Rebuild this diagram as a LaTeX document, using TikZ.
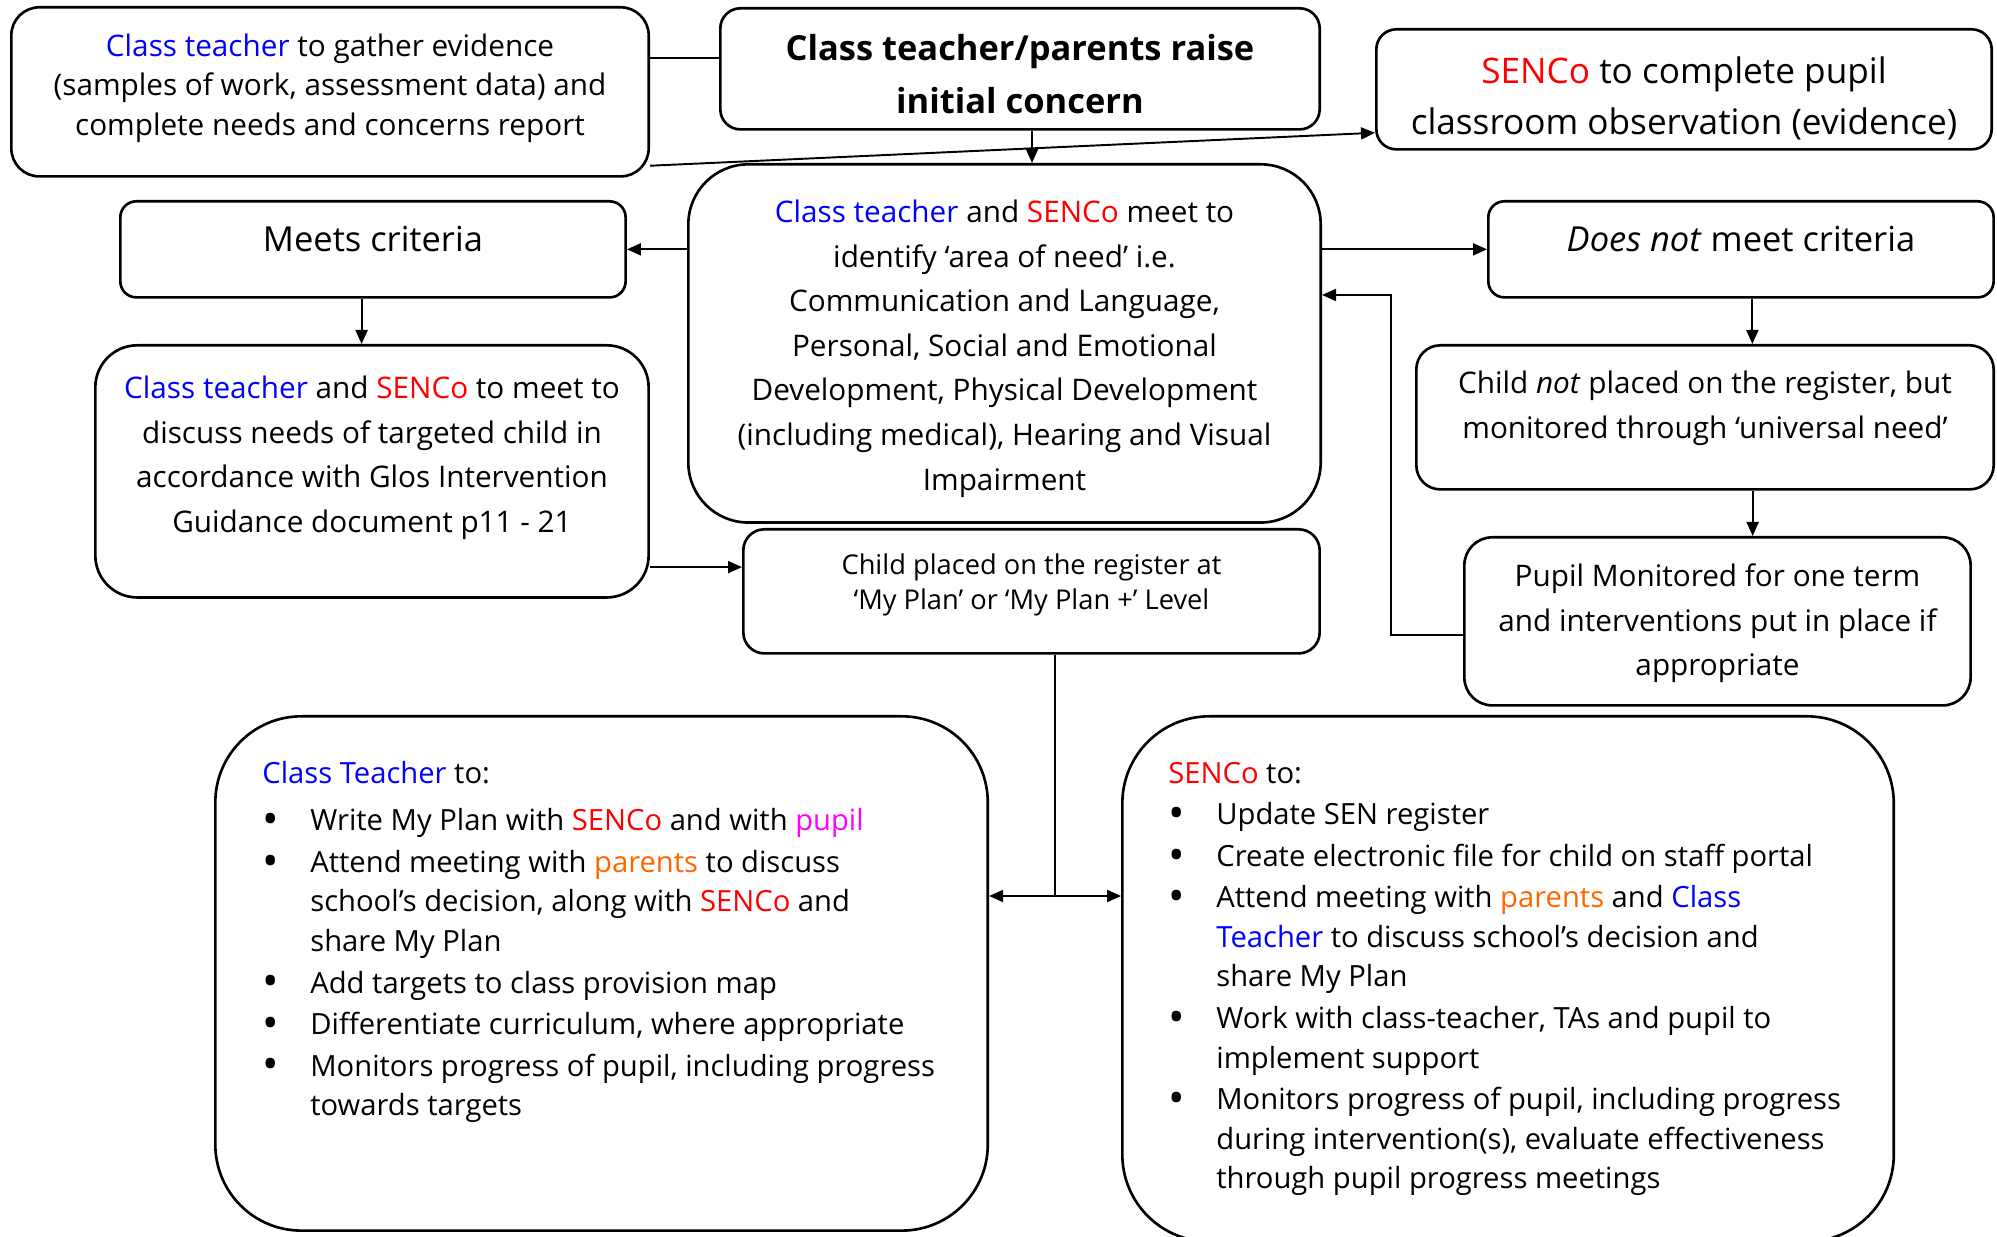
\documentclass[tikz,border=0pt]{standalone}
\usepackage{fontspec}
\setmainfont{Open Sans}
\usepackage{graphicx}
\usepackage{tikz}
\usetikzlibrary{arrows.meta}

\definecolor{ctblue}{RGB}{0,0,255}
\definecolor{sencored}{RGB}{255,0,0}
\definecolor{parorange}{RGB}{255,102,0}
\definecolor{pupilpink}{RGB}{255,0,255}
\newcommand{\ctch}[1]{\textcolor{ctblue}{#1}}
\newcommand{\senco}[1]{\textcolor{sencored}{#1}}
\newcommand{\prnt}[1]{\textcolor{parorange}{#1}}
\newcommand{\ppl}[1]{\textcolor{pupilpink}{#1}}
\newcommand{\bitem}{\hangindent=0.48cm\hangafter=1\makebox[0.48cm][l]{\raisebox{-1.1pt}{\scalebox{1.5}{\textbullet}}}}

\begin{document}
\begin{tikzpicture}[x=0.01cm, y=-0.01cm, >={Triangle[length=1.4mm, width=1.2mm]}, line width=0.55pt,
  card/.style={draw, line width=0.75pt, anchor=north west, inner sep=0pt, align=flush center},
  txt/.style={font=\fontsize{8.45}{12.7}\selectfont},
  list/.style={card, align=flush left, font=\fontsize{8.3}{11.24}\selectfont, text width=7.72cm, text height=6.7mm}]
  \useasboundingbox (0,0) rectangle (1997,1237);
  \node[card, rounded corners=2.8mm, text width=6.37cm, text height=4.9mm, text depth=12mm, font=\fontsize{8.45}{11.2}\selectfont] (evid) at (10,6) {\ctch{Class teacher} to gather evidence\\(samples of work, assessment data) and\\complete needs and concerns report};
  \node[card, rounded corners=2mm, text width=5.99cm, text height=5.2mm, text depth=6.9mm, font=\fontsize{9.8}{15}\selectfont\bfseries] (concern) at (719,7) {Class teacher/parents raise\\initial concern};
  \node[card, rounded corners=2mm, text width=6.15cm, text height=5.4mm, text depth=6.6mm, font=\fontsize{10}{14.5}\selectfont] (observe) at (1375,28) {\senco{SENCo} to complete pupil\\classroom observation (evidence)};
  \node[card, rounded corners=1.6mm, text width=5.05cm, text height=5mm, text depth=4.6mm, font=\fontsize{9.8}{12}\selectfont] (meets) at (119,200) {Meets criteria};
  \node[card, txt, rounded corners=6mm, text width=6.32cm, text height=5.8mm, text depth=30mm] (meet) at (687,163) {\ctch{Class teacher} and \senco{SENCo} meet to\\identify ‘area of need’ i.e.\\Communication and Language,\\Personal, Social and Emotional\\Development, Physical Development\\(including medical), Hearing and Visual\\Impairment};
  \node[card, rounded corners=1.6mm, text width=5.05cm, text height=5mm, text depth=4.6mm, font=\fontsize{9.8}{12}\selectfont] (notmeet) at (1487,200) {\textit{Does not} meet criteria};
  \node[card, txt, rounded corners=4.2mm, text width=5.53cm, text height=5.3mm, text depth=19.9mm] (discuss) at (94,344) {\ctch{Class teacher} and \senco{SENCo} to meet to\\discuss needs of targeted child in\\accordance with Glos Intervention\\Guidance document p11 - 21};
  \node[card, txt, rounded corners=2.4mm, text width=5.77cm, text height=4.8mm, text depth=9.6mm] (notreg) at (1415,344) {Child \textit{not} placed on the register, but\\monitored through ‘universal need’};
  \node[card, rounded corners=2.1mm, text width=5.76cm, text height=4.5mm, text depth=7.9mm, font=\fontsize{7.75}{9.96}\selectfont] (register) at (742,528) {Child placed on the register at\\‘My Plan’ or ‘My Plan +’ Level};
  \node[card, txt, rounded corners=2.8mm, text width=5.06cm, text height=4.9mm, text depth=11.9mm] (monitor) at (1463,536) {Pupil Monitored for one term\\and interventions put in place if\\appropriate};
  \node[list, rounded corners=8.6mm, text depth=44.7mm] (ctlist) at (214,715) {\leftskip=0.47cm\parskip=0.02cm
    \ctch{Class Teacher} to:\par\vspace{0.06cm}
    \bitem Write My Plan with \senco{SENCo} and with \ppl{pupil}\par
    \bitem Attend meeting with \prnt{parents} to discuss\newline school’s decision, along with \senco{SENCo} and\newline share My Plan\par
    \bitem Add targets to class provision map\par
    \bitem Differentiate curriculum, where appropriate\par
    \bitem Monitors progress of pupil, including progress\newline towards targets\par};
  \node[list, rounded corners=8.7mm, text width=7.71cm, text depth=45.8mm] (senlist) at (1121,715) {\leftskip=0.46cm\parskip=0.02cm
    \senco{SENCo} to:\par
    \bitem Update SEN register\par
    \bitem Create electronic file for child on staff portal\par
    \bitem Attend meeting with \prnt{parents} and \ctch{Class}\newline \ctch{Teacher} to discuss school’s decision and\newline share My Plan\par
    \bitem Work with class-teacher, TAs and pupil to\newline implement support\par
    \bitem Monitors progress of pupil, including progress\newline during intervention(s), evaluate effectiveness\newline through pupil progress meetings\par};
  \coordinate (back) at (1391,295);
  \coordinate (fork) at (1055,896);
  \draw (concern.178) -- (concern.178 -| evid.east);
  \draw[->] (evid.347) -- (observe.188);
  \draw[->] (concern.281) -- (concern.281 |- meet.north);
  \draw[->] (meet.west |- meets.east) -- (meets.east);
  \draw[->] (meet.east |- notmeet.west) -- (notmeet.west);
  \draw[->] (meets.257) -- (meets.257 |- discuss.north);
  \draw[->] (discuss.341) -- (discuss.341 -| register.west);
  \draw[->] (notmeet.283) -- (notmeet.283 |- notreg.north);
  \draw[->] (notreg.303) -- (notreg.303 |- monitor.north);
  \draw[->] (monitor.183) -| (back) -- (back -| meet.east);
  \draw (register.south -| fork) -- (fork);
  \draw[->] (fork) -- (fork -| ctlist.east);
  \draw[->] (fork) -- (fork -| senlist.west);
\end{tikzpicture}
\end{document}
